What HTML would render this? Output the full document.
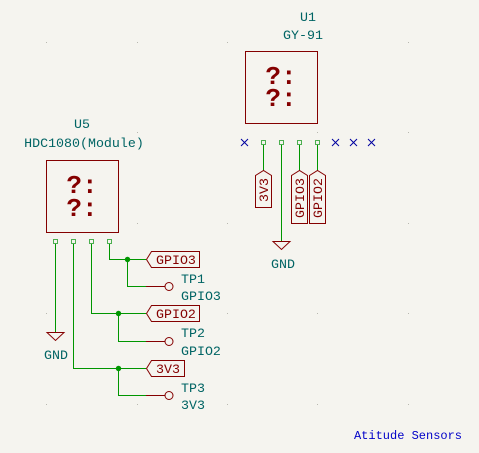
<!DOCTYPE html>
<html><head><meta charset="utf-8"><style>
html,body{margin:0;padding:0;background:#f5f4ef}
svg{display:block}
text{font-family:"Liberation Mono","DejaVu Sans Mono",monospace}
</style></head><body>
<svg width="479" height="453" viewBox="0 0 479 453" xmlns="http://www.w3.org/2000/svg">
<rect width="479" height="453" fill="#f5f4ef"/>
<g fill="#b8b8b0">
<rect x="46" y="42" width="1" height="1"/><rect x="137" y="42" width="1" height="1"/><rect x="227" y="42" width="1" height="1"/><rect x="408" y="42" width="1" height="1"/>
<rect x="137" y="132" width="1" height="1"/><rect x="317" y="132" width="1" height="1"/><rect x="408" y="132" width="1" height="1"/>
<rect x="137" y="223" width="1" height="1"/><rect x="227" y="223" width="1" height="1"/><rect x="317" y="223" width="1" height="1"/><rect x="408" y="223" width="1" height="1"/>
<rect x="46" y="313" width="1" height="1"/><rect x="227" y="313" width="1" height="1"/><rect x="317" y="313" width="1" height="1"/><rect x="408" y="313" width="1" height="1"/>
<rect x="46" y="404" width="1" height="1"/><rect x="137" y="404" width="1" height="1"/><rect x="227" y="404" width="1" height="1"/><rect x="317" y="404" width="1" height="1"/><rect x="408" y="404" width="1" height="1"/>
</g>
<!-- U1 -->
<text x="308" y="21" font-size="13.3" fill="#006464" text-anchor="middle">U1</text>
<text x="303" y="39" font-size="13.3" fill="#006464" text-anchor="middle">GY-91</text>
<rect x="245.5" y="51.5" width="72" height="72" fill="none" stroke="#840000" stroke-width="1"/>
<text x="281" y="84" font-size="26" font-weight="bold" fill="#840000" text-anchor="middle">?:</text>
<text x="281" y="106" font-size="26" font-weight="bold" fill="#840000" text-anchor="middle">?:</text>
<g stroke="#0000a0" stroke-width="1">
<path d="M241 139l7 7M248 139l-7 7"/><path d="M332 139l7 7M339 139l-7 7"/><path d="M350 139l7 7M357 139l-7 7"/><path d="M368 139l7 7M375 139l-7 7"/>
</g>
<g stroke="#009600" stroke-width="1" fill="none">
<path d="M263.5 145V171M281.5 145V241M299.5 145V171M317.5 145V171"/>
</g>
<g stroke="#4caf50" fill="none" stroke-width="1">
<rect x="261.5" y="140.5" width="4" height="4"/><rect x="279.5" y="140.5" width="4" height="4"/><rect x="297.5" y="140.5" width="4" height="4"/><rect x="315.5" y="140.5" width="4" height="4"/>
</g>
<g stroke="#840000" fill="none" stroke-width="1">
<path d="M255.5 207.5V175.5L263.5 170.5L271.5 175.5V207.5Z"/>
<path d="M291.5 223.5V175.5L299.5 170.5L307.5 175.5V223.5Z"/>
<path d="M309.5 223.5V175.5L317.5 170.5L325.5 175.5V223.5Z"/>
<path d="M273 241.5H290L281.5 249.5Z"/>
</g>
<g font-size="13.3" fill="#840000">
<text transform="translate(268,190) rotate(-90)" text-anchor="middle">3V3</text>
<text transform="translate(304,198) rotate(-90)" text-anchor="middle">GPIO3</text>
<text transform="translate(322,198) rotate(-90)" text-anchor="middle">GPIO2</text>
</g>
<text x="283" y="268" font-size="13.3" fill="#006464" text-anchor="middle">GND</text>
<!-- U5 -->
<text x="82" y="128" font-size="13.3" fill="#006464" text-anchor="middle">U5</text>
<text x="84" y="147" font-size="13.3" fill="#006464" text-anchor="middle">HDC1080(Module)</text>
<rect x="46.5" y="160.5" width="72" height="72" fill="none" stroke="#840000" stroke-width="1"/>
<text x="82" y="193" font-size="26" font-weight="bold" fill="#840000" text-anchor="middle">?:</text>
<text x="82" y="216" font-size="26" font-weight="bold" fill="#840000" text-anchor="middle">?:</text>
<g stroke="#009600" stroke-width="1" fill="none">
<path d="M55.5 244V332"/>
<path d="M73.5 244V368.5H146"/>
<path d="M91.5 244V313.5H146"/>
<path d="M109.5 244V259.5H146"/>
<path d="M127.5 259.5V286.5H146"/>
<path d="M118.5 313.5V341.5H146"/>
<path d="M118.5 368.5V395.5H146"/>
</g>
<g fill="#009600"><circle cx="127.5" cy="259.5" r="2.7"/><circle cx="118.5" cy="313.5" r="2.7"/><circle cx="118.5" cy="368.5" r="2.7"/></g>
<g stroke="#4caf50" fill="none" stroke-width="1">
<rect x="53.5" y="239.5" width="4" height="4"/><rect x="71.5" y="239.5" width="4" height="4"/><rect x="89.5" y="239.5" width="4" height="4"/><rect x="107.5" y="239.5" width="4" height="4"/>
</g>
<g stroke="#840000" fill="none" stroke-width="1">
<path d="M146 286.5H165M146 341.5H165M146 395.5H165"/>
<circle cx="169" cy="286.5" r="4"/><circle cx="169" cy="341.5" r="4"/><circle cx="169" cy="395.5" r="4"/>
<path d="M146.5 259.5L151.5 251.5H199.5V267.5H151.5Z"/>
<path d="M146.5 313.5L151.5 305.5H199.5V321.5H151.5Z"/>
<path d="M146.5 368.5L151.5 360.5H184.5V376.5H151.5Z"/>
<path d="M47 332.5H64L55.5 340.5Z"/>
</g>
<g font-size="13.3" fill="#840000">
<text x="156" y="264">GPIO3</text><text x="156" y="318">GPIO2</text><text x="156" y="373">3V3</text>
</g>
<g font-size="13.3" fill="#006464">
<text x="181" y="283">TP1</text><text x="181" y="300">GPIO3</text>
<text x="181" y="337">TP2</text><text x="181" y="355">GPIO2</text>
<text x="181" y="392">TP3</text><text x="181" y="409">3V3</text>
<text x="56" y="359" text-anchor="middle">GND</text>
</g>
<text x="408" y="439" font-size="12" fill="#0000c8" text-anchor="middle">Atitude Sensors</text>
</svg>
</body></html>
